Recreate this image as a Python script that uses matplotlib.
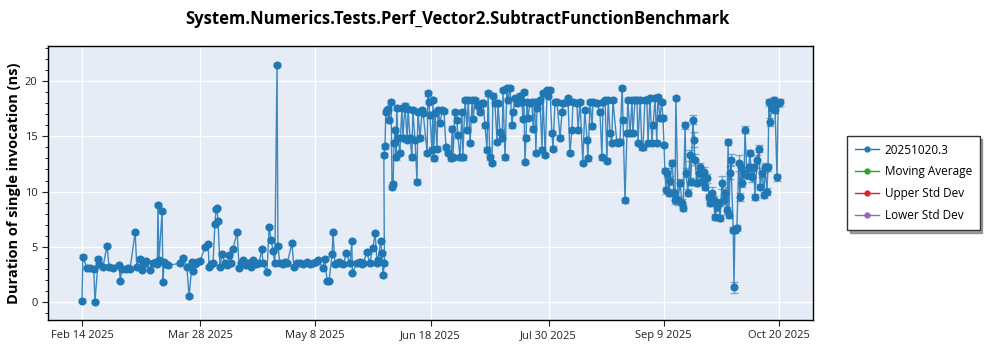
import datetime as dt
import matplotlib
matplotlib.use("Agg")
import matplotlib.pyplot as plt
import matplotlib.dates as mdates
from matplotlib.lines import Line2D
from matplotlib.ticker import MultipleLocator

plt.rcParams['font.family'] = ['Open Sans', 'DejaVu Sans']

title = "System.Numerics.Tests.Perf_Vector2.SubtractFunctionBenchmark"
y_label = "Duration of single invocation (ns)"
series_name = "20251020.3"
legend_names = ["20251020.3", "Moving Average", "Upper Std Dev", "Lower Std Dev"]
legend_colors = ["#1f77b4", "#2ca02c", "#d62728", "#9467bd"]
start_date = dt.datetime(2025, 2, 14)
tick_labels = ["Feb 14 2025", "Mar 28 2025", "May 8 2025", "Jun 18 2025",
               "Jul 30 2025", "Sep 9 2025", "Oct 20 2025"]
tick_dates = [dt.datetime(2025, 2, 14), dt.datetime(2025, 3, 28), dt.datetime(2025, 5, 8),
              dt.datetime(2025, 6, 18), dt.datetime(2025, 7, 30), dt.datetime(2025, 9, 9),
              dt.datetime(2025, 10, 20)]

# Segment 1: low regime (days after Feb 14, duration ns)
days1 = [0.0, 0.3, 1.7, 2.8, 4.2, 4.6, 5.8, 6.2, 7.5, 8.9, 9.6, 11.0, 13.2, 13.6, 14.2,
         15.5, 16.3, 17.1, 18.9, 19.5, 20.6, 21.3, 22.0, 22.8, 24.2, 25.2, 26.2, 26.8,
         27.0, 27.4, 28.5, 28.8, 29.2, 30.0, 30.6, 34.9, 35.9, 37.3, 38.1, 39.2, 39.5,
         40.3, 41.0, 42.0, 43.8, 44.9, 45.2, 46.0, 46.6, 47.3, 47.7, 48.0, 48.4, 49.1,
         49.8, 50.9, 51.6, 52.3, 53.0, 53.7, 55.2, 55.9, 56.6, 57.2, 58.2, 59.0, 60.0,
         60.5, 60.9, 62.0, 63.0, 64.0, 64.4, 65.8, 66.6, 67.3, 68.0, 68.6, 69.4, 69.7,
         70.4, 71.5, 72.3, 73.0, 74.7, 75.4, 76.5, 77.6, 78.6, 80.0, 81.0, 82.2, 83.2,
         84.0, 85.7, 86.4, 87.2, 87.9, 89.0, 89.3, 90.0, 90.7, 91.5, 91.8, 93.0, 94.0,
         95.4, 96.0, 96.2, 97.8, 98.8, 99.5, 100.0, 101.4, 102.4, 103.5, 104.3, 105.0,
         105.3, 106.3, 106.7, 107.1, 107.6]
vals1 = [0.1, 4.1, 3.1, 3.1, 3.0, 0.0, 3.9, 3.4, 3.2, 5.1, 3.2, 3.1, 3.3, 1.9, 3.0,
         3.0, 3.1, 3.0, 6.3, 3.2, 3.9, 2.9, 3.4, 3.7, 2.9, 3.5, 3.6, 3.4,
         8.8, 3.8, 8.2, 1.8, 3.6, 3.4, 3.3, 3.5, 4.0, 3.2, 0.5, 3.6, 2.8,
         3.4, 3.6, 3.7, 5.0, 5.2, 3.2, 3.4, 3.5, 7.1, 8.4, 8.5, 7.3, 3.2,
         4.3, 3.5, 3.3, 4.2, 3.5, 4.8, 6.3, 3.1, 3.5, 3.8, 3.3, 3.5, 3.2,
         3.6, 3.8, 3.4, 3.5, 4.8, 3.5, 2.7, 6.8, 5.6, 4.6, 3.5, 21.5, 5.1,
         3.5, 3.4, 3.6, 3.5, 5.3, 3.2, 3.5, 3.5, 3.4, 3.6, 3.4, 3.5, 3.6,
         3.8, 3.1, 3.9, 1.9, 1.9, 4.3, 6.3, 3.4, 3.5, 3.6, 3.5, 3.4, 4.4,
         3.5, 5.5, 2.6, 3.5, 3.6, 3.4, 3.5, 4.5, 3.5, 4.9, 6.2, 3.5,
         3.8, 5.5, 4.4, 2.4, 3.5]
err1 = 0.12

# Segment 2: high regime
days2 = [107.4, 107.8, 108.1, 108.5, 108.9, 109.2, 110.0, 110.3, 110.7, 111.0, 111.4,
         111.7, 112.0, 112.4, 113.1, 113.8, 114.2, 114.9, 115.7, 116.0, 116.7, 117.4,
         117.7, 118.5, 119.2, 119.5, 120.3, 121.0, 121.4, 122.8, 123.1, 123.4, 123.8,
         124.5, 124.9, 125.1, 125.6, 126.3, 126.7, 127.4, 128.1, 128.8, 129.5, 130.2,
         131.3, 131.7, 132.0, 132.7, 133.4, 133.7, 134.5, 135.2, 135.5, 136.3, 137.0,
         137.4, 138.1, 138.8, 139.2, 139.8, 140.9, 141.6, 142.3, 142.7, 143.4, 144.1,
         144.5, 145.1, 145.9, 146.2, 146.9, 147.7, 148.0, 148.7, 149.5, 149.8, 150.5,
         151.2, 151.5, 152.3, 153.0, 153.4, 154.1, 154.8, 155.2, 155.8, 156.5, 156.9,
         157.2, 157.6, 158.0, 158.3, 158.7, 159.4, 160.1, 160.5, 161.1, 161.5, 161.9,
         162.2, 162.9, 163.7, 164.0, 164.8, 165.5, 165.8, 166.5, 167.2, 167.6, 168.3,
         169.0, 170.1, 170.8, 171.2, 172.5, 172.9, 173.6, 174.3, 174.7, 176.1, 176.5,
         177.2, 178.2, 178.9, 179.7, 180.0, 180.8, 181.5, 181.8, 183.2, 184.3, 185.0,
         185.4, 186.1, 186.8, 187.2, 187.9, 188.5, 188.9, 190.3, 190.7, 191.4, 192.2,
         192.5, 193.2, 193.9, 194.2, 195.0, 195.7, 196.0, 196.8, 197.5, 197.8, 198.6,
         199.2, 199.6, 200.3, 201.0, 201.4, 202.1, 202.8, 203.2, 203.9, 204.5, 204.9,
         205.6, 206.3, 206.7, 207.1, 207.4]
vals2 = [13.3, 14.1, 17.2, 17.4, 17.5, 16.5, 18.1, 10.4, 10.7, 14.4, 15.6,
         13.1, 17.6, 14.9, 13.5, 17.6, 14.9, 17.8, 14.7, 17.5, 14.9, 13.1,
         17.4, 14.7, 10.9, 17.2, 14.9, 17.4, 17.1, 13.5, 18.9, 18.1, 16.9,
         13.8, 18.3, 13.0, 17.1, 13.9, 17.4, 16.2, 17.4, 17.3, 14.0, 13.5,
         13.0, 15.7, 13.1, 17.2, 16.5, 15.1, 13.1, 17.2, 13.1, 18.3, 15.6,
         18.3, 14.4, 18.3, 16.6, 18.3, 17.8, 17.2, 18.0, 18.0, 16.0, 13.8,
         18.9, 13.1, 12.6, 18.7, 18.0, 14.5, 18.0, 15.4, 14.9, 19.2, 13.1,
         19.4, 18.3, 19.4, 16.0, 17.2, 18.5, 18.0, 18.1, 18.7, 18.1, 16.6,
         19.0, 12.7, 14.9, 18.1, 16.7, 18.0, 18.1, 15.7, 18.1, 13.5, 17.6,
         18.1, 18.3, 13.8, 18.9, 13.3, 19.2, 18.7, 19.2, 15.3, 13.9, 18.1,
         18.1, 14.9, 17.2, 18.0, 18.1, 18.5, 13.5, 15.6, 18.1, 18.0, 15.6,
         18.1, 12.6, 17.4, 14.7, 13.0, 18.1, 15.9, 18.1, 18.0, 17.2, 13.1,
         18.1, 18.3, 12.8, 18.3, 15.3, 14.4, 18.3, 14.5, 14.4, 14.5, 19.4,
         16.5, 9.2, 15.3, 18.3, 15.3, 18.3, 15.3, 18.3, 18.3, 14.4, 18.3,
         14.0, 14.0, 18.3, 18.3, 14.4, 18.5, 14.4, 16.0, 18.5, 14.4, 18.6,
         16.7, 18.1, 16.7, 14.2, 11.9]
err2 = 0.2

# Segment 3: mixed regime at the end
days3 = [207.7, 208.2, 208.8, 209.2, 210.0, 210.6, 211.0, 211.3, 212.1, 212.8, 213.5,
         213.9, 214.6, 214.9, 215.6, 216.3, 216.6, 217.4, 217.7, 218.1, 218.8, 219.6,
         219.9, 220.6, 221.3, 221.6, 222.3, 223.1, 223.4, 224.2, 224.9, 225.2, 226.0,
         226.6, 227.0, 227.7, 228.4, 228.8, 229.5, 229.9, 230.2, 230.6, 230.9, 231.7,
         232.0, 232.3, 233.0, 233.7, 234.1, 234.5, 234.8, 235.6, 235.9, 236.6, 237.3,
         237.6, 238.4, 239.1, 239.4, 240.2, 240.9, 241.3, 242.0, 242.6, 243.0, 243.7,
         244.1, 244.4, 244.8, 245.5, 246.2, 246.6, 247.3, 247.7, 248.3]
vals3 = [10.1, 11.7, 9.9, 11.0, 12.6, 9.9, 9.2, 18.5, 9.2, 10.8, 9.0,
         8.5, 16.0, 11.7, 9.9, 13.3, 10.9, 16.5, 14.7, 12.9, 10.8, 11.7,
         12.2, 11.0, 11.8, 10.4, 11.2, 9.5, 9.0, 9.9, 9.2, 7.7, 8.6,
         9.0, 7.6, 10.8, 9.2, 9.9, 8.3, 14.5, 7.9, 11.7, 12.9, 6.5,
         1.3, 6.5, 6.7, 12.6, 9.5, 12.2, 10.8, 11.7, 15.6, 11.5, 12.2,
         13.5, 11.3, 12.2, 9.5, 12.9, 13.9, 10.4, 11.7, 9.7, 12.2, 10.0,
         12.2, 18.1, 16.3, 17.6, 18.3, 17.4, 11.3, 18.0, 18.1]
err3 = [0.3, 0.4, 0.3, 0.4, 0.3, 0.3, 0.3, 0.2, 0.4, 0.3, 0.3,
        0.3, 0.3, 0.4, 0.3, 0.5, 0.3, 0.4, 0.7, 0.5, 0.3, 0.4,
        0.4, 0.4, 0.4, 0.3, 0.4, 0.3, 0.3, 0.5, 0.4, 0.3, 0.4,
        0.3, 0.3, 0.6, 0.4, 0.5, 0.3, 0.3, 0.3, 0.6, 0.5, 0.3,
        0.5, 0.3, 0.3, 0.7, 0.4, 0.5, 0.4, 0.4, 0.3, 0.4, 0.3,
        0.3, 0.4, 0.3, 0.3, 0.4, 0.3, 0.3, 0.4, 0.3, 0.4, 0.3,
        0.3, 0.3, 0.4, 0.3, 0.3, 0.3, 0.3, 0.3, 0.3]

blue = "#1f77b4"

def to_dates(days):
    return [start_date + dt.timedelta(days=d) for d in days]

fig = plt.figure(figsize=(10, 3.5), dpi=100)
ax = fig.add_axes([0.048, 0.0857, 0.765, 0.7829])
ax.set_facecolor("#e5ecf6")

all_days = days1 + days2 + days3
all_vals = vals1 + vals2 + vals3
ax.plot(to_dates(all_days), all_vals, color=blue, lw=1.0, alpha=0.85, zorder=2)
for d, v, e in [(days1, vals1, err1), (days2, vals2, err2), (days3, vals3, err3)]:
    ax.errorbar(to_dates(d), v, yerr=e, fmt='o', ms=4.8, color=blue,
                ecolor=(0.12, 0.47, 0.71, 0.55), elinewidth=1.0, capsize=3,
                capthick=1.0, zorder=3)

ax.set_xlim(start_date - dt.timedelta(days=12.1), tick_dates[-1] + dt.timedelta(days=12.1))
ax.set_ylim(-1.65, 23.2)
ax.set_xticks(tick_dates)
ax.set_xticklabels(tick_labels)
ax.yaxis.set_major_locator(MultipleLocator(5))
ax.yaxis.set_minor_locator(MultipleLocator(1))
ax.tick_params(axis='both', labelsize=8, colors='#222222', length=4)
ax.tick_params(axis='y', which='minor', length=2.5)
ax.grid(True, which='major', color='white', lw=1.0)
ax.set_axisbelow(True)
for s in ax.spines.values():
    s.set_color('black')
    s.set_linewidth(1.0)

ax.set_ylabel(y_label, fontsize=10.5, fontweight='bold', labelpad=3)
fig.text(0.457, 0.945, title, fontsize=12, fontweight='bold', ha='center', va='center')

handles = [Line2D([0], [0], color=c, lw=1.0, marker='o', ms=3.5) for c in legend_colors]
leg = ax.legend(handles, legend_names, loc='upper left', bbox_to_anchor=(1.045, 0.672),
                fontsize=8.5, frameon=True, fancybox=False, shadow=True,
                edgecolor='#333333', borderpad=0.65, labelspacing=0.75, handlelength=2.0,
                handletextpad=0.5, borderaxespad=0.0)
leg.get_frame().set_linewidth(1.0)

fig.savefig("out.png", dpi=100)
